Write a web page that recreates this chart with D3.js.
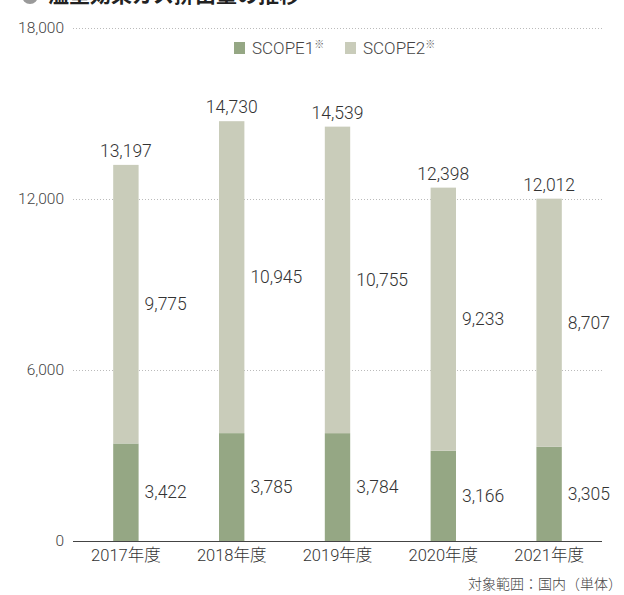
<!DOCTYPE html>
<html>
<head>
<meta charset="utf-8">
<script src="https://cdn.jsdelivr.net/npm/d3@7"></script>
<style>
  body { margin: 0; background: white; }
  svg text { font-family: "Roboto", "Noto Sans CJK JP", sans-serif; font-weight: 300; }
</style>
</head>
<body>
<div id="chart-container"></div>
<script>
// chart data

const years = ["2017年度", "2018年度", "2019年度", "2020年度", "2021年度"];
const scope1 = [3422, 3785, 3784, 3166, 3305];
const scope2 = [9775, 10945, 10755, 9233, 8707];
const totals = [13197, 14730, 14539, 12398, 12012];
const yTicks = [0, 6000, 12000, 18000];
const seriesNames = ["SCOPE1", "SCOPE2"];
const seriesColors = ["#95a784", "#c9ccba"];

width = 624;
height = 595;

svg = d3.select("#chart-container")
    .append("svg")
    .attr("width", width)
    .attr("height", height);

// scales
x = d3.scaleBand()
    .domain(years)
    .range([73, 602])
    .paddingInner(0.76)
    .paddingOuter(0.38);

y = d3.scaleLinear()
    .domain([0, 18000])
    .range([541, 28]);

fmt = d3.format(",");

// title (cut off at top in the source picture)
svg.append("circle")
    .attr("cx", 30).attr("cy", -4).attr("r", 8)
    .attr("fill", "#9a9a9a");
svg.append("text")
    .attr("x", 48).attr("y", 2)
    .attr("font-size", 21)
    .attr("fill", "#222")
    .style("font-family", "Noto Sans CJK JP")
    .style("font-weight", "bold")
    .text("温室効果ガス排出量の推移");
svg.append("text")
    .attr("x", 622).attr("y", -2)
    .attr("text-anchor", "end")
    .attr("font-size", 13).attr("fill", "#aaa")
    .style("font-family", "Noto Sans CJK JP")
    .text("（t-CO2）");

// gridlines
svg.append("g")
    .selectAll("line")
    .data(yTicks.filter(d => d > 0))
    .join("line")
    .attr("x1", 73).attr("x2", 602)
    .attr("y1", d => y(d) + 0.5).attr("y2", d => y(d) + 0.5)
    .attr("stroke", "#bbb")
    .attr("stroke-dasharray", "1,2");

// y axis
yAxis = svg.append("g")
    .attr("transform", "translate(64,0)")
    .call(d3.axisLeft(y).tickValues(yTicks).tickFormat(fmt).tickSize(0).tickPadding(0));
yAxis.select(".domain").remove();
yAxis.selectAll("text")
    .attr("font-size", 15.5)
    .attr("fill", "#444")
    .style("font-family", "Roboto")
    .style("font-weight", 300);

// bars
bars = svg.append("g").attr("id", "bar-group");
bars.selectAll("rect.s1")
    .data(years)
    .join("rect")
    .attr("class", "s1")
    .attr("x", d => x(d))
    .attr("width", x.bandwidth())
    .attr("y", (d, i) => y(scope1[i]))
    .attr("height", (d, i) => y(0) - y(scope1[i]))
    .attr("fill", seriesColors[0]);
bars.selectAll("rect.s2")
    .data(years)
    .join("rect")
    .attr("class", "s2")
    .attr("x", d => x(d))
    .attr("width", x.bandwidth())
    .attr("y", (d, i) => y(scope1[i] + scope2[i]))
    .attr("height", (d, i) => y(scope1[i]) - y(scope1[i] + scope2[i]))
    .attr("fill", seriesColors[1]);

// baseline
svg.append("line")
    .attr("x1", 73).attr("x2", 602)
    .attr("y1", y(0) + 0.5).attr("y2", y(0) + 0.5)
    .attr("stroke", "#444").attr("stroke-width", 1);

// x axis labels
svg.append("g")
    .selectAll("text")
    .data(years)
    .join("text")
    .attr("x", d => x(d) + x.bandwidth() / 2)
    .attr("y", 561)
    .attr("text-anchor", "middle")
    .attr("font-size", 16.5)
    .attr("fill", "#333")
    .text(d => d);

// value labels
labels = svg.append("g").attr("font-size", 17.5).attr("fill", "#333");
labels.selectAll("text.total")
    .data(years)
    .join("text")
    .attr("class", "total")
    .attr("x", d => x(d) + x.bandwidth() / 2)
    .attr("y", (d, i) => y(totals[i]) - 8)
    .attr("text-anchor", "middle")
    .text((d, i) => fmt(totals[i]));
labels.selectAll("text.v2")
    .data(years)
    .join("text")
    .attr("class", "v2")
    .attr("x", d => x(d) + x.bandwidth() + 6)
    .attr("y", (d, i) => (y(scope1[i]) + y(scope1[i] + scope2[i])) / 2 + 6)
    .text((d, i) => fmt(scope2[i]));
labels.selectAll("text.v1")
    .data(years)
    .join("text")
    .attr("class", "v1")
    .attr("x", d => x(d) + x.bandwidth() + 6)
    .attr("y", (d, i) => (y(0) + y(scope1[i])) / 2 + 6)
    .text((d, i) => fmt(scope1[i]));

// legend
legend = svg.append("g").attr("transform", "translate(234,42)");
seriesNames.forEach((name, i) => {
    var g = legend.append("g").attr("transform", `translate(${i * 111},0)`);
    g.append("rect").attr("width", 11).attr("height", 12).attr("fill", seriesColors[i]);
    var t = g.append("text")
        .attr("x", 18).attr("y", 12)
        .attr("font-size", 17).attr("fill", "#444")
        .text(name);
    t.append("tspan")
        .attr("font-size", 10)
        .attr("dy", -6)
        .attr("fill", "#666")
        .style("font-family", "Noto Sans CJK JP")
        .text("※");
});

// footnote
svg.append("text")
    .attr("x", 622).attr("y", 589)
    .attr("text-anchor", "end")
    .attr("font-size", 14).attr("fill", "#444")
    .style("font-family", "Noto Sans CJK JP")
    .text("対象範囲：国内（単体）");
</script>
</body>
</html>
